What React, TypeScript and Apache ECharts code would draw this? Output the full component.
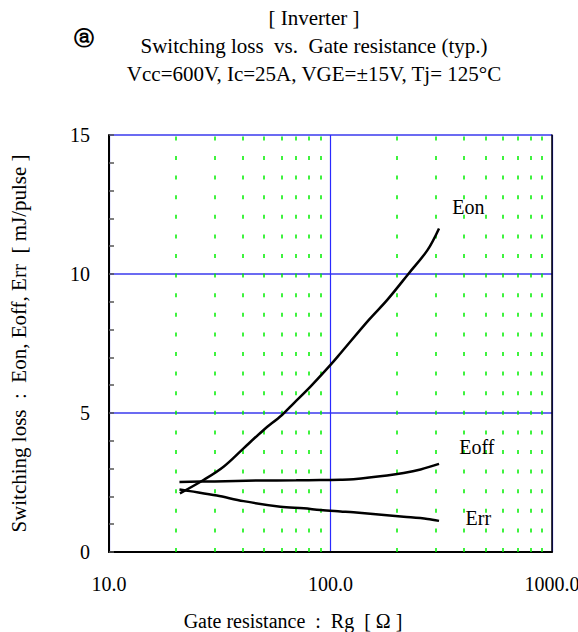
import React, { useEffect, useRef } from "react";
import * as echarts from "echarts";

// Gate resistance (Ohm) and switching loss (mJ/pulse)
const rgEon = [20.9, 26.7, 32.9, 40.5, 49.9, 60.4, 68.2, 81.2, 100, 111, 149, 180, 226, 274, 309];
const eonValues = [2.11, 2.59, 3.07, 3.73, 4.39, 4.93, 5.35, 5.95, 6.73, 7.15, 8.35, 9.06, 10.03, 10.86, 11.64];
const rgEoff = [20.8, 30, 46.6, 70, 90, 111, 127, 180, 214, 255, 309];
const eoffValues = [2.52, 2.54, 2.57, 2.58, 2.59, 2.6, 2.62, 2.75, 2.84, 2.97, 3.17];
const rgErr = [20.8, 23.2, 30.7, 40.5, 59.4, 75.8, 90, 111, 127, 214, 274, 309];
const errValues = [2.25, 2.19, 2.03, 1.83, 1.63, 1.57, 1.51, 1.46, 1.43, 1.27, 1.19, 1.12];

const seriesNames = ["Eon", "Eoff", "Err"];
const labelRg = [419, 458, 465];
const labelE = [12.41, 3.78, 1.24];

const minorGridRg = [20, 30, 40, 50, 60, 70, 80, 90, 200, 300, 400, 500, 600, 700, 800, 900];

const titleLines = [
  "[ Inverter ]",
  "Switching loss  vs.  Gate resistance (typ.)",
  "Vcc=600V, Ic=25A, VGE=\u00b115V, Tj= 125\u00b0C",
];
const xAxisName = "Gate resistance  :  Rg  [ \u03a9 ]";
const yAxisName = "Switching loss  :  Eon, Eoff, Err  [ mJ/pulse ]";

const SERIF = "Liberation Serif";
const TICK_FONT = "serif";

function zip(xs: number[], ys: number[]) {
  return xs.map((x, i) => [x, ys[i]]);
}

export default function App() {
  const ref = useRef<HTMLDivElement>(null);
  useEffect(() => {
    if (!ref.current) return;
    const chart = echarts.init(ref.current, null, { renderer: "svg" });
    const allData = [zip(rgEon, eonValues), zip(rgEoff, eoffValues), zip(rgErr, errValues)];
    const series: any[] = allData.map((d, i) => ({
      name: seriesNames[i],
      type: "line",
      data: d,
      showSymbol: false,
      smooth: 0.35,
      lineStyle: { color: "#000", width: 2.5 },
      z: 5,
      markPoint: {
        silent: true,
        symbol: "circle",
        symbolSize: 0,
        data: [{ coord: [labelRg[i], labelE[i]], value: seriesNames[i] }],
        label: {
          show: true,
          position: "inside",
          formatter: seriesNames[i],
          color: "#000",
          fontFamily: SERIF,
          fontSize: 20,
        },
      },
    }));
    series[0].markLine = {
      silent: true,
      symbol: ["none", "none"],
      label: { show: false },
      lineStyle: { color: "#00ee00", type: [4, 15.6], width: 1.5 },
      data: minorGridRg.map((v) => ({ xAxis: v })),
      z: 1,
    };
    chart.setOption({
      animation: false,
      backgroundColor: "#fff",
      textStyle: { fontFamily: TICK_FONT },
      grid: { left: 109, right: 26, top: 135, bottom: 80, outerBoundsMode: "none", containLabel: false },
      xAxis: {
        type: "log",
        logBase: 10,
        min: 10,
        max: 1000,
        axisLine: { show: true, lineStyle: { color: "#000", width: 2 } },
        axisTick: { show: false },
        axisLabel: {
          formatter: (v: number) => v.toFixed(1),
          color: "#000",
          fontFamily: TICK_FONT,
          fontSize: 20,
          margin: 22,
          showMaxLabel: true,
          showMinLabel: true,
        },
        splitLine: { show: true, lineStyle: { color: "#2a2aff", width: 1.2 } },
      },
      yAxis: [
        {
          type: "value",
          min: 0,
          max: 15,
          interval: 5,
          axisLine: { show: true, lineStyle: { color: "#000", width: 2 } },
          axisTick: { show: true, inside: true, length: 5, lineStyle: { color: "#555", width: 1.5 } },
          minorTick: { show: true, splitNumber: 5, length: 5, lineStyle: { color: "#555", width: 1.5 } },
          axisLabel: {
            color: "#000",
            fontFamily: TICK_FONT,
            fontSize: 20,
            margin: 19,
          },
          splitLine: { show: true, lineStyle: { color: "#6b6bf2", width: 2 } },
          name: yAxisName,
          nameLocation: "middle",
          nameRotate: 90,
          nameGap: 80,
          nameTextStyle: { color: "#000", fontFamily: SERIF, fontSize: 21 },
        },
        {
          type: "value",
          position: "right",
          min: 0,
          max: 15,
          interval: 5,
          axisLine: { show: true, lineStyle: { color: "#000", width: 1.5 } },
          axisTick: { show: false },
          axisLabel: { show: false },
          splitLine: { show: false },
        },
      ],
      graphic: [
        ...titleLines.map((t, i) => ({
          type: "text",
          x: 314,
          y: 18 + i * 28,
          style: {
            text: t,
            fill: "#000",
            fontFamily: SERIF,
            fontSize: 21,
            textAlign: "center",
            textVerticalAlign: "middle",
          },
        })),
        {
          type: "text",
          x: 84,
          y: 38,
          style: {
            text: "\u24d0",
            fill: "#000",
            fontFamily: "DejaVu Sans",
            fontWeight: "bold",
            fontSize: 20,
            textAlign: "center",
            textVerticalAlign: "middle",
          },
        },
        {
          type: "text",
          x: 293,
          y: 621,
          style: {
            text: xAxisName,
            fill: "#000",
            fontFamily: SERIF,
            fontSize: 20,
            textAlign: "center",
            textVerticalAlign: "middle",
          },
        },
      ],
      series,
    });
    return () => chart.dispose();
  }, []);
  return (
    <div
      ref={ref}
      style={{ position: "fixed", left: 0, top: 0, width: 578, height: 632, background: "#fff" }}
    />
  );
}
